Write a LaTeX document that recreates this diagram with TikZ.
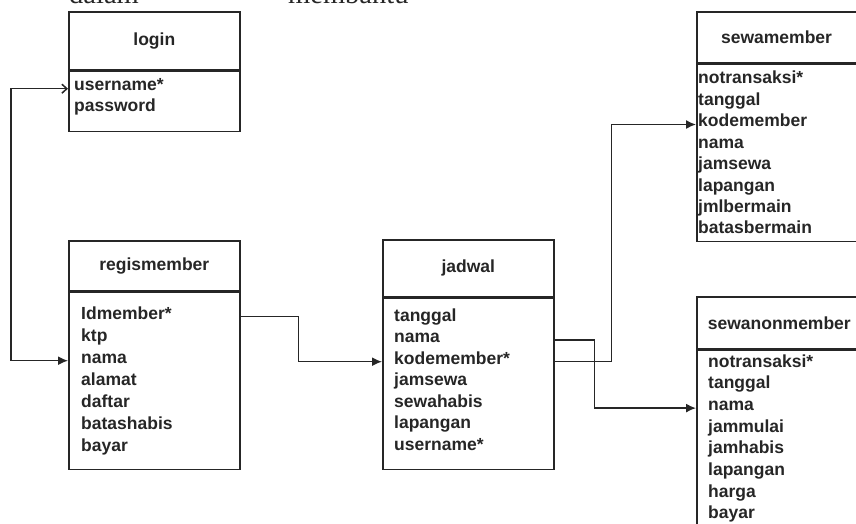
\documentclass[tikz,border=0pt]{standalone}
\usepackage{fontspec}
\setsansfont{Liberation Sans}
\setmainfont{Liberation Serif}
\usetikzlibrary{positioning,arrows.meta}

\tikzset{
  tbl/.style={draw=black!85, line width=1.6pt, rectangle, inner sep=0pt, anchor=north west},
  tblhead/.style={tbl, font=\sffamily\bfseries\fontsize{17.5}{21}\selectfont, text=black!85},
  field/.style={anchor=base west, inner sep=0pt, font=\sffamily\bfseries\fontsize{17.5}{21}\selectfont, text=black!85},
  rel/.style={draw=black!85, line width=1.5pt, -{Latex[length=10pt,width=9pt]}},
}

\begin{document}
\begin{tikzpicture}[x=1pt,y=-1pt]
  \clip (0,0) rectangle (856,524);
  \fill[white] (0,0) rectangle (856,524);

  % text of the page above, cut off
  \node[anchor=base west, inner sep=0pt, font=\fontsize{28.5}{30}\selectfont, text=black!85] (txtA) at (69,4) {dalam};
  \node[anchor=base west, inner sep=0pt, font=\fontsize{28.5}{30}\selectfont, text=black!85] (txtB) at (288,4) {membantu};

  % tables
  \node[tblhead, minimum width=171pt, minimum height=58pt] (login) at (68,11) {login};
  \node[tbl, below=0pt of login, minimum width=171pt, minimum height=60pt] (loginbox) {};

  \node[tblhead, minimum width=171pt, minimum height=50pt] (regis) at (68,240) {regismember};
  \node[tbl, below=0pt of regis, minimum width=171pt, minimum height=177pt] (rmbox) {};

  \node[tblhead, minimum width=171pt, minimum height=57pt] (jadwal) at (382,239) {jadwal};
  \node[tbl, below=0pt of jadwal, minimum width=171pt, minimum height=171pt] (jdbox) {};

  \node[tblhead, minimum width=159.5pt, minimum height=51pt] (sewam) at (696,11) {sewamember};
  \node[tbl, below=0pt of sewam, minimum width=159.5pt, minimum height=177pt] (smbox) {};

  \node[tblhead, minimum width=165pt, minimum height=52pt] (sewan) at (696,296) {sewanonmember};
  \node[tbl, below=0pt of sewan, minimum width=165pt, minimum height=200pt] (snbox) {};

  % fields
  \foreach \f [count=\i] in {username*,password}
    \node[field] (lg\i) at (74,{91+21*(\i-1)}) {\f};
  \foreach \f [count=\i] in {Idmember*,ktp,nama,alamat,daftar,batashabis,bayar}
    \node[field] (rm\i) at (81,{319+22*(\i-1)}) {\f};
  \foreach \f [count=\i] in {tanggal,nama,kodemember*,jamsewa,sewahabis,lapangan,username*}
    \node[field] (jd\i) at (394,{321+21.5*(\i-1)}) {\f};
  \foreach \f [count=\i] in {notransaksi*,tanggal,kodemember,nama,jamsewa,lapangan,jmlbermain,batasbermain}
    \node[field] (sm\i) at (698,{84+21.4*(\i-1)}) {\f};
  \foreach \f [count=\i] in {notransaksi*,tanggal,nama,jammulai,jamhabis,lapangan,harga,bayar}
    \node[field] (sn\i) at (708,{367+21.7*(\i-1)}) {\f};

  % relations
  \draw[rel, {Straight Barb[length=5pt,width=9pt]}-{Latex[length=10pt,width=9pt]}]
    (lg1.mid west -| loginbox.west) -- ++(-57,0) |- (rm3.mid west -| rmbox.west);
  \draw[rel] (rm1.mid west -| rmbox.east) -- ++(58,0) |- (jd3.mid west -| jdbox.west);
  \draw[rel] (jd2.mid west -| jdbox.east) -- ++(40,0) |- (sn3.mid west -| snbox.west);
  \draw[rel] (jd3.mid west -| jdbox.east) -- ++(57,0) |- (sm3.mid west -| smbox.west);
\end{tikzpicture}
\end{document}
